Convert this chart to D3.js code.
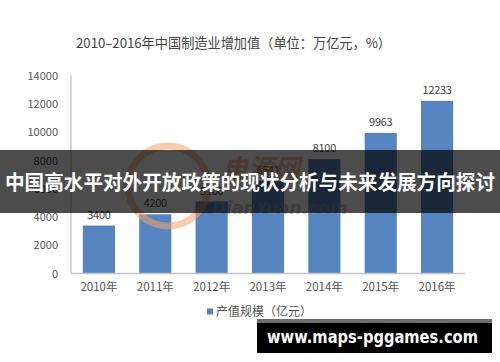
<!DOCTYPE html>
<html><head><meta charset="utf-8">
<script src="https://cdn.jsdelivr.net/npm/d3@7"></script>
<style>body{margin:0;background:#fff;}svg{display:block;}</style>
</head><body>
<svg id="c" width="500" height="362"></svg>
<script>
const categories = ["2010年","2011年","2012年","2013年","2014年","2015年","2016年"];
const values = [3400, 4200, 5100, 6541, 8100, 9963, 12233];
const yTicks = [0, 2000, 4000, 6000, 8000, 10000, 12000, 14000];
const titleText = "2010–2016年中国制造业增加值（单位：万亿元，%）";
const legendText = "产值规模（亿元）";
const bannerText = "中国高水平对外开放政策的现状分析与未来发展方向探讨";
const footerText = "www.maps-pggames.com";

const svg = d3.select("#c");
const font = "'Noto Sans CJK SC','Noto Sans',sans-serif";
const barColor = "#5584bf";

const x = d3.scaleBand().domain(categories).range([71, 465]).paddingInner(0.43).paddingOuter(0.21);
const y = d3.scaleLinear().domain([0, 14000]).range([273.5, 76]);

// title
svg.append("text").attr("x", 76).attr("y", 48).attr("font-family", font)
  .attr("font-size", 13.5).attr("fill", "#444").attr("textLength", 315).attr("lengthAdjust","spacingAndGlyphs")
  .text(titleText);

// y axis
const ya = svg.append("g").attr("transform", "translate(71,0)")
  .call(d3.axisLeft(y).tickValues(yTicks).tickFormat(d3.format("d")).tickSize(0).tickPadding(13));
ya.select(".domain").attr("stroke", "#c4c4c4").attr("stroke-width", 1.3)
  .attr("d", `M0,${y(0)}V${y(14000) - 1}`);
ya.selectAll("text").attr("font-family", font).attr("font-size", 11).attr("fill", "#555");

// bars
svg.selectAll("rect.bar").data(values).join("rect").attr("class", "bar")
  .attr("x", (d, i) => x(categories[i])).attr("width", x.bandwidth())
  .attr("y", d => y(d)).attr("height", d => y(0) - y(d)).attr("fill", barColor);

// value labels
svg.selectAll("text.val").data(values).join("text").attr("class", "val")
  .attr("x", (d, i) => x(categories[i]) + x.bandwidth() / 2).attr("y", d => y(d) - 7)
  .attr("text-anchor", "middle").attr("font-family", font).attr("font-size", 11).attr("fill", "#444")
  .attr("letter-spacing", -0.3)
  .text(d => d);

// x axis
const xa = svg.append("g").attr("transform", `translate(0,${y(0)})`)
  .call(d3.axisBottom(x).tickSize(0).tickPadding(9));
xa.select(".domain").attr("stroke", "#c4c4c4").attr("stroke-width", 1.5).attr("d", "M71,0H465");
xa.selectAll("text").attr("font-family", font).attr("font-size", 11.5).attr("fill", "#555");

// legend
svg.append("rect").attr("x", 207).attr("y", 308.5).attr("width", 6).attr("height", 6).attr("fill", barColor);
svg.append("text").attr("x", 216).attr("y", 316).attr("font-family", font).attr("font-size", 12)
  .attr("fill", "#555").text(legendText);

// faint watermark logo
const wm = svg.append("g").attr("opacity", 0.55);
wm.append("circle").attr("cx", 168).attr("cy", 186).attr("r", 40).attr("fill", "none")
  .attr("stroke", "#f3a46a").attr("stroke-width", 7);
wm.append("text").attr("x", 222).attr("y", 178).attr("font-family", font).attr("font-size", 26)
  .attr("font-weight", "bold").attr("font-style", "italic").attr("fill", "#f08a4b").text("电源网");
wm.append("text").attr("x", 212).attr("y", 214).attr("font-family", "'DejaVu Sans',sans-serif").attr("font-size", 17)
  .attr("font-weight", "bold").attr("font-style", "italic").attr("fill", "#999").text("DianYuan.com");

// banner
svg.append("rect").attr("x", 0).attr("y", 150).attr("width", 500).attr("height", 63)
  .attr("fill", "#000").attr("opacity", 0.7);
svg.append("text").attr("x", 250).attr("y", 189.5).attr("text-anchor", "middle")
  .attr("font-family", font).attr("font-weight", "bold").attr("font-size", 20.5).attr("fill", "#fff")
  .attr("textLength", 490).attr("lengthAdjust", "spacingAndGlyphs").text(bannerText);

// footer
svg.append("rect").attr("x", 257).attr("y", 319).attr("width", 235).attr("height", 34).attr("fill", "#000");
svg.append("rect").attr("x", 257).attr("y", 319).attr("width", 235).attr("height", 4).attr("fill", "#6d6d6d");
svg.append("text").attr("x", 267).attr("y", 343).attr("font-family", "'DejaVu Sans',sans-serif")
  .attr("font-weight", "bold").attr("font-size", 17).attr("fill", "#fff")
  .attr("textLength", 211).attr("lengthAdjust", "spacingAndGlyphs").text(footerText);
</script>
</body></html>
